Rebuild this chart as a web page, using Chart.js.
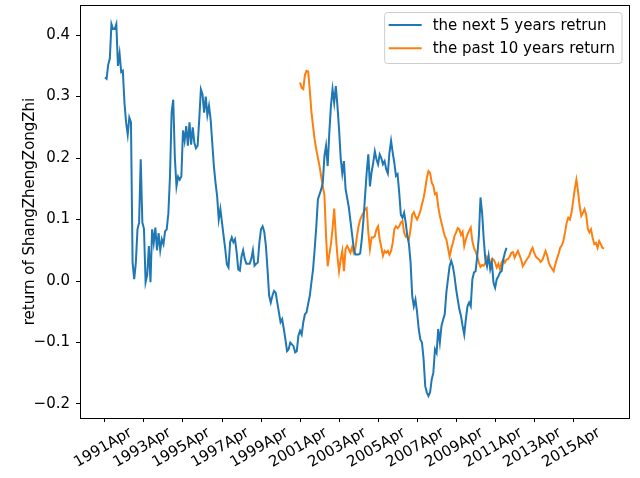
<!DOCTYPE html>
<html>
<head>
<meta charset="utf-8">
<script src="https://cdn.jsdelivr.net/npm/chart.js@4"></script>
<style>
  html, body { margin: 0; padding: 0; background: #fff; }
  #wrap { width: 640px; height: 478px; position: relative; }
</style>
</head>
<body>
<div id="wrap"><canvas id="chart"></canvas></div>
<script>
// monthly index: 0 = 1991Apr
const tickLabels = ['1991Apr', '1993Apr', '1995Apr', '1997Apr', '1999Apr', '2001Apr', '2003Apr',
  '2005Apr', '2007Apr', '2009Apr', '2011Apr', '2013Apr', '2015Apr'];
const yTicks = [-0.2, -0.1, 0.0, 0.1, 0.2, 0.3, 0.4];

const nextStart = 0;    // first month of "next 5 years" series
const pastStart = 120;  // first month of "past 10 years" series

const next5 = [
  0.331, 0.329, 0.352, 0.362, 0.418, 0.41, 0.41, 0.418, 0.35, 0.37,
  0.34, 0.342, 0.29, 0.258, 0.238, 0.266, 0.258, 0.03, 0.003, 0.03,
  0.084, 0.095, 0.198, 0.095, 0.085, -0.002, 0.01, 0.057, -0.002, 0.084,
  0.062, 0.087, 0.05, 0.078, 0.05, 0.068, 0.06, 0.081, 0.084, 0.11,
  0.17, 0.274, 0.295, 0.2, 0.154, 0.17, 0.165, 0.17, 0.245, 0.228,
  0.252, 0.22, 0.258, 0.222, 0.25, 0.225, 0.216, 0.22, 0.263, 0.312,
  0.304, 0.274, 0.3, 0.27, 0.285, 0.263, 0.225, 0.187, 0.16, 0.138,
  0.1, 0.117, 0.095, 0.073, 0.052, 0.027, 0.022, 0.063, 0.071, 0.063,
  0.068, 0.047, 0.019, 0.017, 0.04, 0.05, 0.036, 0.028, 0.028, 0.028,
  0.036, 0.05, 0.025, 0.028, 0.03, 0.063, 0.084, 0.089, 0.08, 0.057,
  0.019, -0.024, -0.035, -0.024, -0.016, -0.019, -0.035, -0.051, -0.067, -0.062,
  -0.078, -0.095, -0.114, -0.111, -0.1, -0.103, -0.106, -0.116, -0.114, -0.089,
  -0.081, -0.087, -0.067, -0.054, -0.051, -0.037, -0.024, -0.002, 0.019, 0.052,
  0.089, 0.133, 0.141, 0.149, 0.16, 0.203, 0.22, 0.187, 0.241, 0.285,
  0.312, 0.29, 0.317, 0.285, 0.247, 0.2, 0.175, 0.195, 0.15, 0.135,
  0.12, 0.098, 0.076, 0.054, 0.043, 0.043, 0.043, 0.045, 0.068, 0.1,
  0.138, 0.177, 0.206, 0.154, 0.177, 0.192, 0.211, 0.198, 0.19, 0.206,
  0.2, 0.19, 0.195, 0.182, 0.175, 0.209, 0.228, 0.209, 0.192, 0.171,
  0.174, 0.144, 0.108, 0.103, 0.111, 0.095, 0.073, 0.06, 0.03, -0.024,
  -0.041, -0.03, -0.051, -0.078, -0.095, -0.1, -0.127, -0.171, -0.181, -0.187,
  -0.181, -0.16, -0.149, -0.111, -0.117, -0.078, -0.1, -0.073, -0.063, -0.054,
  -0.019, 0.003, 0.024, 0.033, 0.024, 0.008, -0.013, -0.03, -0.046, -0.057,
  -0.073, -0.087, -0.062, -0.041, -0.035, -0.041, 0.003, 0.014, 0.016, 0.041,
  0.073, 0.136, 0.111, 0.068, 0.035, 0.024, 0.041, 0.019, 0.03, -0.003,
  -0.011, 0.003, 0.008, 0.014, 0.016, 0.035, 0.046, 0.054
];

const past10 = [
  0.323, 0.314, 0.312, 0.335, 0.342, 0.341, 0.31, 0.275, 0.252, 0.23,
  0.214, 0.2, 0.187, 0.17, 0.154, 0.14, 0.073, 0.024, 0.043, 0.06,
  0.085, 0.118, 0.075, 0.04, 0.016, 0.035, 0.049, 0.016, 0.052, 0.057,
  0.052, 0.046, 0.055, 0.046, 0.052, 0.073, 0.089, 0.1, 0.106, 0.111,
  0.117, 0.119, 0.079, 0.052, 0.071, 0.071, 0.073, 0.084, 0.089, 0.068,
  0.055, 0.041, 0.049, 0.046, 0.049, 0.043, 0.049, 0.062, 0.084, 0.089,
  0.086, 0.089, 0.095, 0.098, 0.079, 0.072, 0.073, 0.068, 0.085, 0.108,
  0.112, 0.105, 0.1, 0.106, 0.114, 0.125, 0.135, 0.15, 0.168, 0.179,
  0.176, 0.16, 0.155, 0.141, 0.143, 0.121, 0.106, 0.095, 0.084, 0.073,
  0.068, 0.054, 0.04, 0.052, 0.062, 0.073, 0.079, 0.086, 0.084, 0.075,
  0.08, 0.057, 0.068, 0.076, 0.082, 0.087, 0.065, 0.054, 0.048, 0.04,
  0.03, 0.023, 0.026, 0.025, 0.03, 0.039, 0.033, 0.027, 0.036, 0.035,
  0.03, 0.022, 0.028, 0.019, 0.03, 0.035, 0.03, 0.035, 0.036, 0.04,
  0.046, 0.047, 0.038, 0.044, 0.049, 0.042, 0.035, 0.024, 0.028, 0.033,
  0.037, 0.041, 0.049, 0.054, 0.046, 0.04, 0.037, 0.035, 0.031, 0.034,
  0.041, 0.049, 0.042, 0.03, 0.024, 0.02, 0.016, 0.027, 0.036, 0.044,
  0.054, 0.058, 0.065, 0.079, 0.095, 0.103, 0.1, 0.111, 0.13, 0.15,
  0.165, 0.146, 0.122, 0.106, 0.111, 0.117, 0.108, 0.085, 0.079, 0.084,
  0.07, 0.06, 0.062, 0.054, 0.065, 0.06, 0.054, 0.053
];

const lastMonth = pastStart + past10.length - 1;
const pad = lastMonth * 0.05;

Chart.defaults.font.family = "'DejaVu Sans', sans-serif";
Chart.defaults.font.size = 15;
Chart.defaults.color = '#000';

// matplotlib style box around the axes
const frame = {
  id: 'frame',
  afterDraw(chart) {
    const { ctx, chartArea: a } = chart;
    ctx.save();
    ctx.strokeStyle = '#000';
    ctx.lineWidth = 1;
    ctx.strokeRect(Math.round(a.left) + 0.5, Math.round(a.top) + 0.5,
      Math.round(a.right - a.left), Math.round(a.bottom - a.top));
    ctx.restore();
  }
};

// legend in upper right corner, inside the axes
const boxLegend = {
  id: 'boxLegend',
  afterDraw(chart) {
    const { ctx, chartArea: a } = chart;
    const sets = chart.data.datasets;
    ctx.save();
    ctx.font = "15px 'DejaVu Sans'";
    let tw = 0;
    sets.forEach(d => { tw = Math.max(tw, ctx.measureText(d.label).width); });
    const w = 4 + 33 + 11 + tw + 7, h = 51;
    const x = a.right - 7 - w, y = a.top + 7.5;
    ctx.beginPath();
    ctx.roundRect(x, y, w, h, 3);
    ctx.fillStyle = 'rgba(255,255,255,0.8)';
    ctx.fill();
    ctx.strokeStyle = '#cccccc';
    ctx.lineWidth = 1;
    ctx.stroke();
    sets.forEach((d, i) => {
      const cy = y + 12.5 + i * 23.3;
      ctx.beginPath();
      ctx.moveTo(x + 4, cy);
      ctx.lineTo(x + 37, cy);
      ctx.strokeStyle = d.borderColor;
      ctx.lineWidth = 2;
      ctx.stroke();
      ctx.fillStyle = '#000';
      ctx.textBaseline = 'middle';
      ctx.fillText(d.label, x + 48, cy + 1);
    });
    ctx.restore();
  }
};

new Chart(document.getElementById('chart'), {
  type: 'line',
  data: {
    datasets: [{
      label: 'the next 5 years retrun',
      data: next5.map((v, k) => ({ x: nextStart + k, y: v })),
      borderColor: '#1f77b4',
      borderWidth: 2,
      pointRadius: 0,
      fill: false
    }, {
      label: 'the past 10 years return',
      data: past10.map((v, k) => ({ x: pastStart + k, y: v })),
      borderColor: '#ff7f0e',
      borderWidth: 2,
      pointRadius: 0,
      fill: false
    }]
  },
  options: {
    responsive: true,
    maintainAspectRatio: false,
    animation: false,
    devicePixelRatio: 1,
    layout: { padding: { top: 5, right: 11, left: 0, bottom: 0 } },
    plugins: {
      legend: { display: false },
      tooltip: { enabled: false }
    },
    scales: {
      x: {
        type: 'linear',
        min: -pad,
        max: lastMonth + pad,
        afterBuildTicks: s => { s.ticks = tickLabels.map((_, k) => ({ value: k * 24 })); },
        afterFit: s => { s.height = 60; s.paddingLeft = 0; s.paddingRight = 0; },
        border: { display: false },
        grid: { drawOnChartArea: false, drawTicks: true, tickLength: 4, tickColor: '#000', tickWidth: 1 },
        ticks: {
          autoSkip: false,
          minRotation: 30,
          maxRotation: 30,
          labelOffset: 26,
          padding: 2,
          callback: (v, i) => tickLabels[i]
        }
      },
      y: {
        min: -0.2228,
        max: 0.449,
        afterBuildTicks: s => { s.ticks = yTicks.map(v => ({ value: v })); },
        afterFit: s => { s.width = 80; s.paddingTop = 0; s.paddingBottom = 0; },
        border: { display: false },
        grid: { drawOnChartArea: false, drawTicks: true, tickLength: 4, tickColor: '#000', tickWidth: 1 },
        ticks: {
          padding: 6,
          callback: v => v.toFixed(1).replace('-', '\u2212')
        },
        title: {
          display: true,
          text: 'return of ShangZhengZongZhi',
          padding: { top: 21, bottom: 0 },
          font: { size: 15 }
        }
      }
    }
  },
  plugins: [frame, boxLegend]
});
</script>
</body>
</html>
